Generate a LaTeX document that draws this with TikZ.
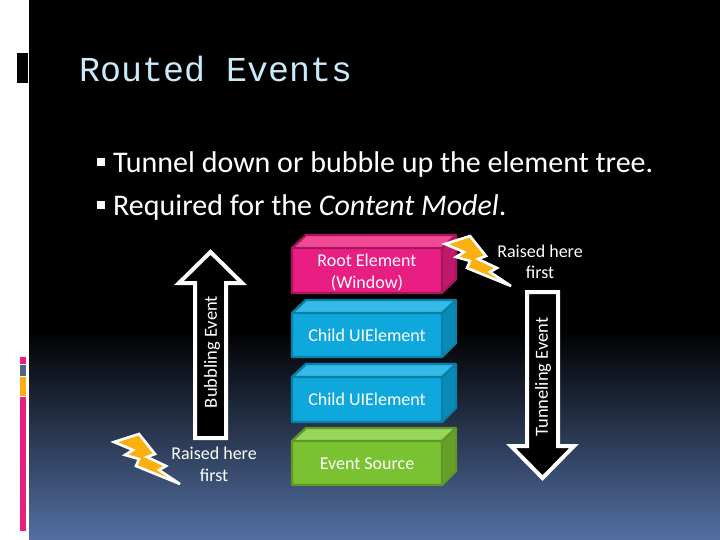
\documentclass[tikz,border=0pt]{standalone}
\usepackage{fontspec}
\setmainfont{Carlito}
\newfontfamily\titlefont{Liberation Mono}
\definecolor{pinkF}{HTML}{E91E82}
\definecolor{pinkT}{HTML}{F14A95}
\definecolor{pinkS}{HTML}{C2186C}
\definecolor{pinkB}{HTML}{A8155E}
\definecolor{blueF}{HTML}{0FA8DC}
\definecolor{blueT}{HTML}{32BBE6}
\definecolor{blueS}{HTML}{0A8AB6}
\definecolor{blueB}{HTML}{0B7FA8}
\definecolor{greenF}{HTML}{7AC231}
\definecolor{greenT}{HTML}{98D65C}
\definecolor{greenS}{HTML}{66A028}
\definecolor{greenB}{HTML}{5F9828}
\definecolor{bolt}{HTML}{FBB010}
\definecolor{titleC}{HTML}{C8EAFA}
\definecolor{bgblue}{HTML}{536FA2}
\definecolor{stripeG}{HTML}{56657C}
\tikzset{
  x=1pt,y=-1pt,
  boltshape/.style={draw=white,fill=bolt,line width=2.6pt,miter limit=3,line join=miter},
  blockarrow/.style={draw=white,fill=black,line width=4pt,line join=miter,miter limit=4},
  boxtext/.style={text=white,font=\fontsize{18}{21.5}\selectfont,align=center,inner sep=0pt},
  bodytext/.style={text=white,anchor=base west,inner sep=0pt,font=\fontsize{30}{34}\selectfont},
  bullet/.style={fill=white,draw=none,minimum size=8pt,inner sep=0pt,rectangle},
  vtext/.style={text=white,rotate=90,inner sep=0pt,font=\fontsize{18.5}{20}\selectfont}
}
\newcommand{\cuboid}[4]{% top y of front, bottom y of front, colour prefix, name
  \fill[#3F] (292,#1) rectangle (442,#2);
  \fill[#3T] (292,#1) -- (306,{#1-13}) -- (456,{#1-13}) -- (442,#1) -- cycle;
  \fill[#3S] (442,#1) -- (456,{#1-13}) -- (456,{#2-14}) -- (442,#2) -- cycle;
  \draw[#3B,line width=2.4pt,line join=round] (292,#1) -- (306,{#1-13}) -- (456,{#1-13}) -- (456,{#2-14}) -- (442,#2) -- (292,#2) -- cycle;
  \draw[#3B,line width=2.4pt] (292,#1) -- (442,#1) -- (456,{#1-13}) (442,#1) -- (442,#2);
  \coordinate (#4) at (367,{(#1+#2)/2});
}
\newcommand{\boltpath}{(114,442) -- (139,434) -- (155,454) -- (147,457) -- (166,466) -- (159,470) -- (180,484) -- (136,466) -- (139,459) -- (125,455) -- (133,450) -- cycle}
\begin{document}
\begin{tikzpicture}
\useasboundingbox (0,0) rectangle (720,540);
\fill[white] (0,0) rectangle (720,540);
\fill[black] (29,0) rectangle (720,331);
\shade[top color=black,bottom color=bgblue,shading angle=0] (29,330) rectangle (720,540);
% left decorations
\fill[black] (17,53) rectangle (28,83);
\fill[pinkF] (20,357) rectangle (26,364);
\fill[stripeG] (20,365) rectangle (26,376);
\fill[bolt] (20,377) rectangle (26,396);
\fill[pinkF] (20,397) rectangle (26,531);
% title
\node[anchor=base west,inner sep=0pt,text=titleC,font=\titlefont\fontsize{35}{40}\selectfont] (title) at (79,82) {Routed Events};
% body
\node[bullet] (b1) at (101,162) {};
\node[bullet] (b2) at (101,205) {};
\node[bodytext] (t1) at (113,172.5) {Tunnel down or bubble up the element tree.};
\node[bodytext] (t2) at (113,215.5) {Required for the \textit{Content Model}.};
% arrows
\draw[blockarrow] (195,438) -- (195,283) -- (179,283) -- (210.5,252) -- (242,283) -- (226,283) -- (226,438) -- cycle;
\node[vtext] (be) at (212,352) {Bubbling Event};
\draw[blockarrow] (527,292) -- (558,292) -- (558,446) -- (574,446) -- (542.5,478) -- (511,446) -- (527,446) -- cycle;
\node[vtext] (te) at (543,377) {Tunneling Event};
% blocks
\cuboid{248}{293}{pink}{c1}
\cuboid{313}{357}{blue}{c2}
\cuboid{377}{422}{blue}{c3}
\cuboid{441}{485}{green}{c4}
\node[boxtext] (n1) at ([yshift=-2pt]c1) {Root Element\\(Window)};
\node[boxtext] (n2) at (c2) {Child UIElement};
\node[boxtext] (n3) at (c3) {Child UIElement};
\node[boxtext] (n4) at ([yshift=-1pt]c4) {Event Source};
% bolts
\draw[boltshape] \boltpath;
\begin{scope}[shift={(331,-198)}]
\draw[boltshape] \boltpath;
\end{scope}
% labels
\node[boxtext] (r1) at (214,464.5) {Raised here\\first};
\node[boxtext] (r2) at (540,262) {Raised here\\first};
\end{tikzpicture}
\end{document}
